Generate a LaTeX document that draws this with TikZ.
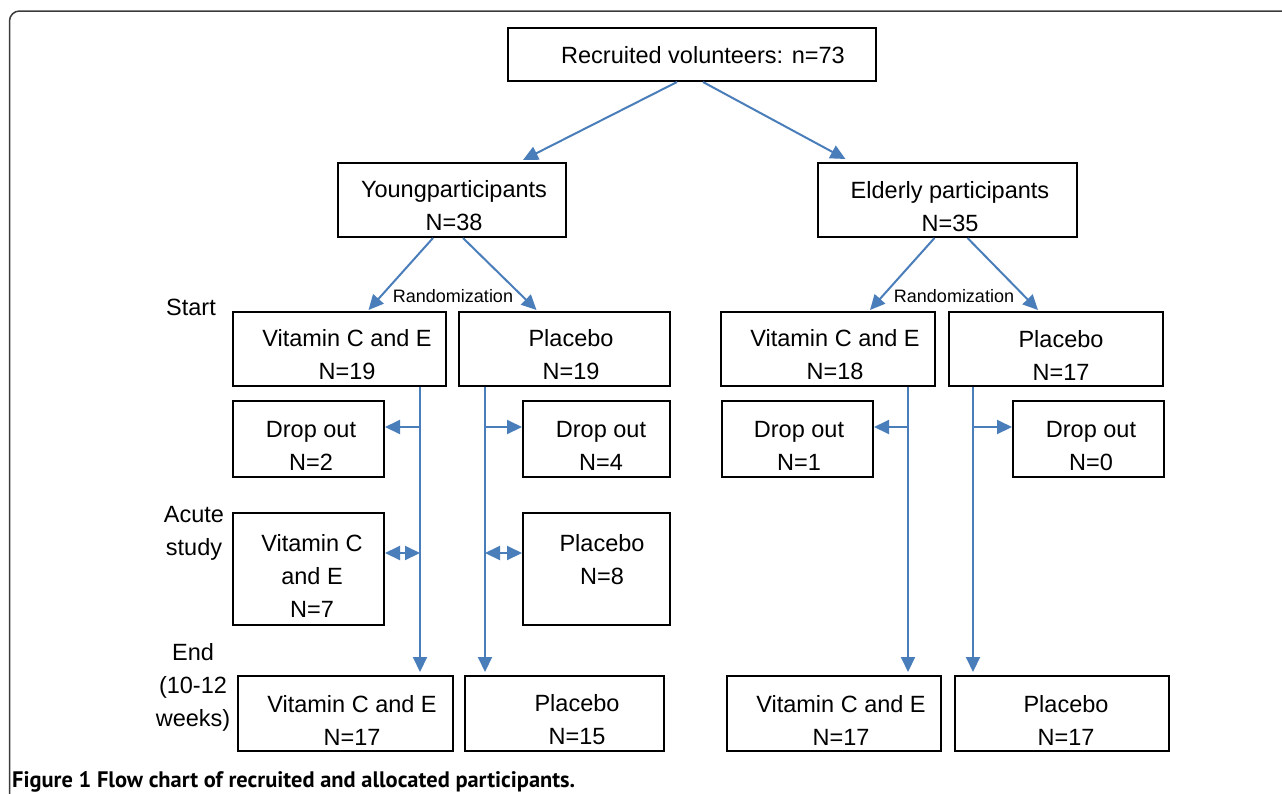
\documentclass[tikz,border=0pt]{standalone}
\usepackage{fontspec}
\usepackage{graphicx}
\setmainfont{Liberation Sans}
\newfontfamily\capfont{PT Sans}
\usetikzlibrary{arrows.meta}
\definecolor{arrblue}{RGB}{74,126,187}
\definecolor{framegray}{RGB}{60,60,60}
\tikzset{
  box/.style={draw=black, line width=2pt, fill=none, inner sep=0pt},
  txt/.style={align=center, inner sep=0pt, font=\fontsize{23.5}{33}\selectfont},
  smalltxt/.style={inner sep=0pt, font=\fontsize{18}{22}\selectfont},
  arr/.style={draw=arrblue, line width=2pt, -{Triangle[length=15pt,width=14pt]}},
  darr/.style={draw=arrblue, line width=2pt, {Triangle[length=15pt,width=14pt]}-{Triangle[length=15pt,width=14pt]}},
}
\newcommand\mybox[5]{\node[box,minimum width={(#4-#2)*1pt},minimum height={(#5-#3)*1pt}] (#1) at ({(#2+#4)/2},{(#3+#5)/2}) {};}
\begin{document}
\begin{tikzpicture}[x=1pt,y=-1pt]
\useasboundingbox (0,0) rectangle (1282,793);
\clip (0,0) rectangle (1282,793);
\fill[white] (0,0) rectangle (1282,793);
% outer frame
\draw[framegray, line width=1.5pt, rounded corners=10pt] (9.5,820) -- (9.5,11) -- (1300,11);

% boxes
\mybox{top}{508}{28}{876}{81}
\mybox{young}{338}{163}{566}{237}
\mybox{elderly}{818}{163}{1077}{237}
\mybox{yv}{233}{312}{446}{386}
\mybox{yp}{459}{312}{670}{386}
\mybox{ev}{721}{312}{935}{386}
\mybox{ep}{949}{312}{1163}{386}
\mybox{yd}{233}{401}{384}{477}
\mybox{ypd}{523}{401}{670}{477}
\mybox{ed}{722}{401}{873}{477}
\mybox{epd}{1013}{401}{1164}{477}
\mybox{ya}{233}{513}{384}{625}
\mybox{ypa}{523}{513}{670}{625}
\mybox{ye}{238}{676}{453}{751}
\mybox{ype}{465}{676}{664}{751}
\mybox{ee}{727}{676}{941}{751}
\mybox{epe}{955}{676}{1169}{751}

% box texts
\node[txt] (topT) at (703,55) {Recruited volunteers: n=73};
\node[txt] (youngT) at (454,206) {Youngparticipants\\N=38};
\node[txt] (elderlyT) at (950,207) {Elderly participants\\N=35};
\node[txt] (yvT) at (347,355) {Vitamin C and E\\N=19};
\node[txt] (ypT) at (571,355) {Placebo\\N=19};
\node[txt] (evT) at (835,355) {Vitamin C and E\\N=18};
\node[txt] (epT) at (1061,355) {Placebo\\N=17};
\node[txt] (ydT) at (311,446) {Drop out\\N=2};
\node[txt] (ypdT) at (601,446) {Drop out\\N=4};
\node[txt] (edT) at (799,446) {Drop out\\N=1};
\node[txt] (epdT) at (1091,446) {Drop out\\N=0};
\node[txt] (yaT) at (312,576) {Vitamin C\\and E\\N=7};
\node[txt] (ypaT) at (602,560) {Placebo\\N=8};
\node[txt] (yeT) at (352,720) {Vitamin C and E\\N=17};
\node[txt] (ypeT) at (577,720) {Placebo\\N=15};
\node[txt] (eeT) at (841,720) {Vitamin C and E\\N=17};
\node[txt] (epeT) at (1066,720) {Placebo\\N=17};

% side labels
\node[txt] (startL) at (191,307) {Start};
\node[txt] (acuteL) at (194,533) {Acute\\study};
\node[txt] (endL) at (193,687) {End\\(10-12\\weeks)};

% randomization labels
\node[smalltxt] (randY) at (453,296) {Randomization};
\node[smalltxt] (randE) at (954,296) {Randomization};

% top arrows
\draw[arr] ([xshift=-15pt]top.south) -- ([xshift=71pt,yshift=2pt]young.north);
\draw[arr] ([xshift=11pt]top.south) -- ([xshift=-102pt,yshift=3pt]elderly.north);
\draw[arr] ([xshift=-19pt]young.south) -- ([xshift=29pt,yshift=1pt]yv.north);
\draw[arr] ([xshift=11pt]young.south) -- ([xshift=-28pt,yshift=1pt]yp.north);
\draw[arr] ([xshift=-13pt]elderly.south) -- ([xshift=42pt,yshift=1pt]ev.north);
\draw[arr] ([xshift=20pt]elderly.south) -- ([xshift=-18pt,yshift=1pt]ep.north);

% vertical trunk lines
\coordinate (cyv) at (420,0);
\coordinate (cyp) at (485,0);
\coordinate (cev) at (908,0);
\coordinate (cep) at (973,0);
\draw[arr, shorten >=3pt] (yv.south -| cyv) -- (ye.north -| cyv);
\draw[arr, shorten >=3pt] (yp.south -| cyp) -- (ype.north -| cyp);
\draw[arr, shorten >=3pt] (ev.south -| cev) -- (ee.north -| cev);
\draw[arr, shorten >=3pt] (ep.south -| cep) -- (epe.north -| cep);

% drop out branches
\coordinate (jyd) at (420,427);
\coordinate (jypd) at (485,427);
\coordinate (jed) at (908,427);
\coordinate (jepd) at (973,427);
\draw[arr] (jyd) -- (jyd -| yd.east);
\draw[arr] (jypd) -- (jypd -| ypd.west);
\draw[arr] (jed) -- (jed -| ed.east);
\draw[arr] (jepd) -- (jepd -| epd.west);

% acute study double arrows
\coordinate (jya) at (420,553);
\coordinate (jypa) at (485,553);
\draw[darr] (jya) -- (jya -| ya.east);
\draw[darr] (jypa) -- (jypa -| ypa.west);

% caption
\node[anchor=base west, inner sep=0pt, font=\capfont\bfseries\fontsize{20}{24}\selectfont] (cap) at (12,787) {\resizebox{563pt}{!}{Figure 1 Flow chart of recruited and allocated participants.}};
\end{tikzpicture}
\end{document}
